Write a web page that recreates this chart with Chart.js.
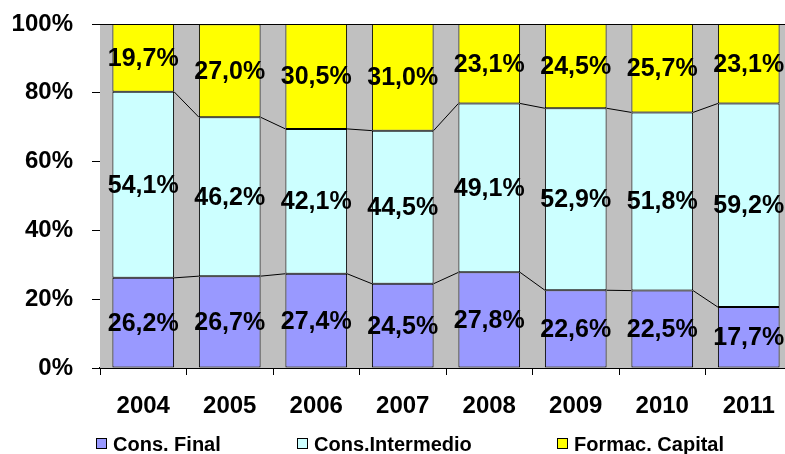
<!DOCTYPE html>
<html>
<head>
<meta charset="utf-8">
<script src="https://cdn.jsdelivr.net/npm/chart.js@4"></script>
<style>
  html, body { margin: 0; padding: 0; background: #fff; overflow: hidden; }
  #wrap { width: 792px; height: 454px; position: relative; }
</style>
</head>
<body>
<div id="wrap"><canvas id="c"></canvas></div>
<script>
const categories = ['2004', '2005', '2006', '2007', '2008', '2009', '2010', '2011'];
const consFinal = [26.2, 26.7, 27.4, 24.5, 27.8, 22.6, 22.5, 17.7];
const consIntermedio = [54.1, 46.2, 42.1, 44.5, 49.1, 52.9, 51.8, 59.2];
const formacCapital = [19.7, 27.0, 30.5, 31.0, 23.1, 24.5, 25.7, 23.1];
const seriesNames = ['Cons. Final', 'Cons.Intermedio', 'Formac. Capital'];
const yTicks = [0, 20, 40, 60, 80, 100];

const colors = ['#9999FF', '#CCFFFF', '#FFFF00'];
const FONT = "'Liberation Sans', Arial, Helvetica, sans-serif";

const fmt = v => v.toFixed(1).replace('.', ',') + '%';

const plotPlugin = {
  id: 'plotDeco',
  beforeDatasetsDraw(chart) {
    const { ctx, chartArea: a } = chart;
    ctx.save();
    ctx.fillStyle = '#C0C0C0';
    ctx.fillRect(a.left, a.top, a.right - a.left, a.bottom - a.top);
    ctx.restore();
  },
  afterDatasetsDraw(chart) {
    const { ctx, chartArea: a } = chart;
    ctx.save();
    ctx.strokeStyle = '#000';
    ctx.lineWidth = 1;
    for (let d = 0; d < chart.data.datasets.length - 1; d++) {
      const meta = chart.getDatasetMeta(d);
      for (let i = 0; i < meta.data.length - 1; i++) {
        const b1 = meta.data[i], b2 = meta.data[i + 1];
        ctx.beginPath();
        ctx.moveTo(b1.x + b1.width / 2, b1.y);
        ctx.lineTo(b2.x - b2.width / 2, b2.y);
        ctx.stroke();
      }
    }
    ctx.beginPath();
    ctx.moveTo(a.left, a.top + 0.5);
    ctx.lineTo(a.right, a.top + 0.5);
    ctx.stroke();
    ctx.fillStyle = '#000';
    ctx.font = 'bold 25px ' + FONT;
    ctx.textAlign = 'center';
    ctx.textBaseline = 'middle';
    chart.data.datasets.forEach((ds, d) => {
      const meta = chart.getDatasetMeta(d);
      meta.data.forEach((bar, i) => {
        const cy = (bar.y + bar.base) / 2;
        ctx.fillText(fmt(ds.data[i]), bar.x, cy + 1);
      });
    });
    ctx.restore();
  },
  afterDraw(chart) {
    const { ctx } = chart;
    ctx.save();
    const boxX = [96, 297, 557];
    ctx.font = 'bold 20px ' + FONT;
    ctx.textBaseline = 'alphabetic';
    ctx.textAlign = 'left';
    seriesNames.forEach((name, i) => {
      ctx.fillStyle = colors[i];
      ctx.fillRect(boxX[i] + 0.5, 438.5, 10, 10);
      ctx.strokeStyle = '#000';
      ctx.lineWidth = 1;
      ctx.strokeRect(boxX[i] + 0.5, 438.5, 10, 10);
      ctx.fillStyle = '#000';
      ctx.fillText(name, boxX[i] + 17, 451);
    });
    ctx.restore();
  }
};

const ds = [consFinal, consIntermedio, formacCapital].map((arr, i) => ({
  label: seriesNames[i],
  data: arr,
  backgroundColor: colors[i],
  borderColor: '#000',
  borderWidth: 1,
  borderSkipped: false,
  categoryPercentage: 1.0,
  barPercentage: 0.713
}));

new Chart(document.getElementById('c'), {
  type: 'bar',
  data: { labels: categories, datasets: ds },
  options: {
    responsive: true,
    maintainAspectRatio: false,
    animation: false,
    layout: { padding: { top: 24, left: 0, right: 0, bottom: 0 } },
    plugins: { legend: { display: false }, tooltip: { enabled: false } },
    scales: {
      x: {
        stacked: true,
        grid: { offset: true, drawOnChartArea: false, drawTicks: true, tickLength: 7, color: '#000', lineWidth: 1 },
        border: { display: true, color: '#000', width: 2 },
        ticks: { color: '#000', font: { family: FONT, size: 24, weight: 'bold' }, padding: 17, maxRotation: 0 },
        afterFit(scale) { scale.height = 86; scale.paddingLeft = 0; scale.paddingRight = 0; }
      },
      y: {
        stacked: true,
        min: 0, max: 100,
        afterBuildTicks(scale) { scale.ticks = yTicks.map(v => ({ value: v })); },
        grid: { drawOnChartArea: false, drawTicks: true, tickLength: 8, color: '#000', lineWidth: 1 },
        border: { display: true, color: '#000', width: 1 },
        ticks: { color: '#000', font: { family: FONT, size: 24, weight: 'bold' }, padding: 19, callback: v => v + '%' },
        afterFit(scale) { scale.width = 100; scale.paddingTop = 0; scale.paddingBottom = 0; }
      }
    }
  },
  plugins: [plotPlugin]
});
</script>
</body>
</html>
